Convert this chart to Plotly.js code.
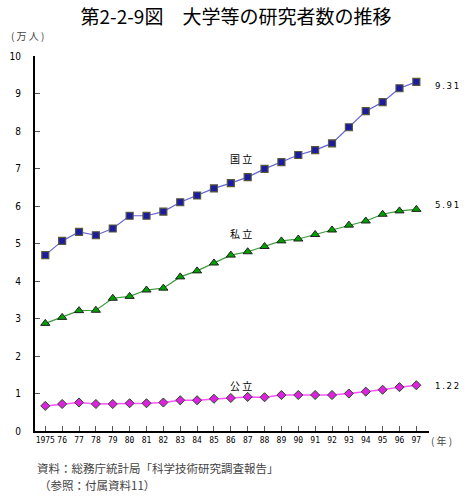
<!DOCTYPE html>
<html>
<head>
<meta charset="utf-8">
<script src="https://cdn.plot.ly/plotly-3.0.1.min.js"></script>
<style>
html,body{margin:0;padding:0;background:#fff;}
#chart{width:472px;height:500px;}
</style>
</head>
<body>
<div id="chart"></div>
<script>
const years = [1975,1976,1977,1978,1979,1980,1981,1982,1983,1984,1985,1986,1987,1988,1989,1990,1991,1992,1993,1994,1995,1996,1997];
const tickLabels = ['1975','76','77','78','79','80','81','82','83','84','85','86','87','88','89','90','91','92','93','94','95','96','97'];
const kokuritsu = [4.69,5.07,5.31,5.22,5.40,5.74,5.74,5.85,6.10,6.28,6.47,6.61,6.77,6.99,7.17,7.36,7.49,7.67,8.10,8.53,8.77,9.14,9.31];
const shiritsu = [2.87,3.03,3.21,3.22,3.54,3.59,3.76,3.81,4.11,4.27,4.48,4.69,4.78,4.92,5.07,5.12,5.24,5.36,5.49,5.60,5.78,5.87,5.91];
const kouritsu = [0.67,0.72,0.76,0.72,0.72,0.74,0.74,0.76,0.82,0.82,0.86,0.88,0.91,0.90,0.96,0.96,0.96,0.96,1.00,1.05,1.10,1.17,1.22];
const seriesNames = ['国立','私立','公立'];
const endLabels = ['9.31','5.91','1.22'];
const yTicks = [0,1,2,3,4,5,6,7,8,9,10];

const jp = '"Noto Sans CJK JP", "Noto Sans", sans-serif';
const traces = [
  {x: years, y: kokuritsu, name: seriesNames[0], mode: 'lines+markers',
   line: {color: '#6464d8', width: 1.2},
   marker: {symbol: 'square', size: 7, color: '#1c1ca0', line: {color: '#585838', width: 1.2}}},
  {x: years, y: shiritsu, name: seriesNames[1], mode: 'lines+markers',
   line: {color: '#3a9a3a', width: 1.2},
   marker: {symbol: 'triangle-up', size: 8, color: '#00a000', line: {color: '#202020', width: 1}}},
  {x: years, y: kouritsu, name: seriesNames[2], mode: 'lines+markers',
   line: {color: '#ff55ff', width: 1.5},
   marker: {symbol: 'diamond', size: 7, color: '#e020e0', line: {color: '#205020', width: 1}}}
];

const spaced = s => s.split('').join('\u2009');
const labelFont = {family: jp, size: 10, color: '#000'};
const numFont = {family: '"DejaVu Sans Condensed", "DejaVu Sans", sans-serif', size: 9.5, color: '#000'};
const annotations = [
  {x: 1986.6, y: kokuritsu[12] + 0.5, text: '国 立', showarrow: false, font: labelFont, xanchor: 'center'},
  {x: 1986.6, y: shiritsu[12] + 0.5, text: '私 立', showarrow: false, font: labelFont, xanchor: 'center'},
  {x: 1986.6, y: kouritsu[12] + 0.3, text: '公 立', showarrow: false, font: labelFont, xanchor: 'center'},
  {xref: 'paper', x: 1.011, y: kokuritsu[22] - 0.1, text: spaced(endLabels[0]), showarrow: false, font: numFont, xanchor: 'left'},
  {xref: 'paper', x: 1.011, y: shiritsu[22] + 0.13, text: spaced(endLabels[1]), showarrow: false, font: numFont, xanchor: 'left'},
  {xref: 'paper', x: 1.011, y: kouritsu[22], text: spaced(endLabels[2]), showarrow: false, font: numFont, xanchor: 'left'},
  {xref: 'paper', yref: 'paper', x: -0.065, y: 1.03, text: '( 万 人 )', showarrow: false, font: {family: jp, size: 10}, xanchor: 'left', yanchor: 'bottom'},
  {xref: 'paper', yref: 'paper', x: 1.0, y: -0.024, text: '( 年 )', showarrow: false, font: {family: jp, size: 10}, xanchor: 'left', yanchor: 'middle'},
  {xref: 'paper', yref: 'paper', x: 0.0, y: -0.072, text: '資料：総務庁統計局「科学技術研究調査報告」', showarrow: false, font: {family: jp, size: 11.5}, xanchor: 'left', yanchor: 'top'},
  {xref: 'paper', yref: 'paper', x: 0.005, y: -0.117, text: '（参照：付属資料11）', showarrow: false, font: {family: jp, size: 11.5}, xanchor: 'left', yanchor: 'top'}
];

const layout = {
  width: 472, height: 500,
  margin: {l: 35, r: 43, t: 56, b: 69, pad: 0},
  paper_bgcolor: '#fff', plot_bgcolor: '#fff',
  showlegend: false,
  title: {text: '第2-2-9図　大学等の研究者数の推移', font: {family: jp, size: 19, color: '#000', weight: 400}, x: 0.5, xanchor: 'center', y: 0.966, yanchor: 'middle'},
  xaxis: {
    range: [1974.39, 1997.75], tickvals: years, ticktext: tickLabels,
    ticks: 'inside', ticklen: 5, tickwidth: 1, tickcolor: '#555',
    showline: true, linecolor: '#000', linewidth: 2,
    showgrid: false, zeroline: false,
    tickfont: {family: '"DejaVu Sans Mono", monospace', size: 8, color: '#000'},
    tickangle: 0
  },
  yaxis: {
    range: [0, 10], tickvals: yTicks,
    ticks: 'inside', ticklen: 5, tickwidth: 1, tickcolor: '#555',
    showline: true, linecolor: '#000', linewidth: 2,
    showgrid: false, zeroline: false,
    tickfont: {family: '"DejaVu Sans Condensed", sans-serif', size: 10, color: '#000'},
    ticklabelstandoff: 10
  },
  annotations: annotations
};

Plotly.newPlot('chart', traces, layout, {displayModeBar: false, staticPlot: true});
</script>
</body>
</html>
